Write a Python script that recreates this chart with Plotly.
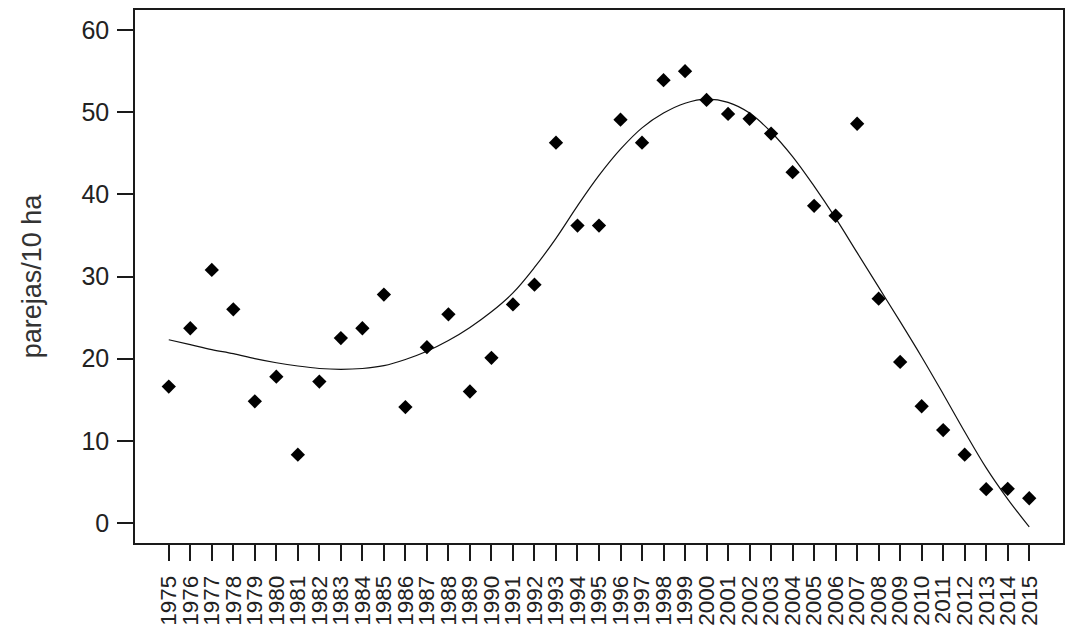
import plotly.graph_objects as go

years = list(range(1975, 2016))
parejas = [16.6, 23.7, 30.8, 26.0, 14.8, 17.8, 8.3, 17.2, 22.5, 23.7,
           27.8, 14.1, 21.4, 25.4, 16.0, 20.1, 26.6, 29.0, 46.3, 36.2,
           36.2, 49.1, 46.3, 53.9, 55.0, 51.5, 49.8, 49.2, 47.4, 42.7,
           38.6, 37.4, 48.6, 27.3, 19.6, 14.2, 11.3, 8.3, 4.1, 4.15, 3.0]
ajuste = [22.3, 21.7, 21.1, 20.6, 20.0, 19.5, 19.1, 18.8, 18.7, 18.8,
          19.15, 19.9, 20.9, 22.2, 23.8, 25.7, 28.0, 31.1, 34.65, 38.6,
          42.3, 45.5, 48.1, 49.9, 51.1, 51.6, 51.2, 49.9, 47.6, 44.6,
          41.0, 37.1, 32.9, 28.7, 24.5, 20.2, 15.7, 11.1, 6.7, 2.9, -0.5]
y_ticks = [0, 10, 20, 30, 40, 50, 60]
y_title = "parejas/10 ha"

FONT = "Liberation Sans, Arial, sans-serif"
INK = "#222222"

fig = go.Figure()
fig.add_trace(go.Scatter(
    x=years, y=ajuste, mode="lines",
    line=dict(color="#111111", width=1.2, shape="spline", smoothing=1.0),
    hoverinfo="skip", showlegend=False))
fig.add_trace(go.Scatter(
    x=years, y=parejas, mode="markers",
    marker=dict(symbol="diamond", size=11, color="#000000"),
    showlegend=False))

fig.update_layout(
    width=1066, height=634,
    margin=dict(l=135, r=3, t=10, b=91, autoexpand=False),
    paper_bgcolor="white", plot_bgcolor="white",
    font=dict(family=FONT, size=24, color=INK),
)
fig.update_xaxes(
    range=[1973.43, 2016.57], tickmode="array", tickvals=years,
    ticktext=[str(y) for y in years], tickangle=-90,
    ticks="outside", ticklen=16, tickwidth=1.5, tickcolor="#1a1a1a",
    showline=True, linecolor="#1a1a1a", linewidth=1.5, mirror=True,
    showgrid=False, zeroline=False, automargin=False,
    tickfont=dict(size=22.5), ticklabelstandoff=6,
)
fig.update_yaxes(
    range=[-2.45, 62.45], tickmode="array", tickvals=y_ticks,
    ticks="outside", ticklen=16, tickwidth=1.5, tickcolor="#1a1a1a",
    showline=True, linecolor="#1a1a1a", linewidth=1.5, mirror=True,
    showgrid=False, zeroline=False, automargin=False,
    tickfont=dict(size=25), ticklabelstandoff=3,
    title=dict(text=y_title, standoff=32, font=dict(size=27, color="#333333")),
)

fig.write_html("out.html")
